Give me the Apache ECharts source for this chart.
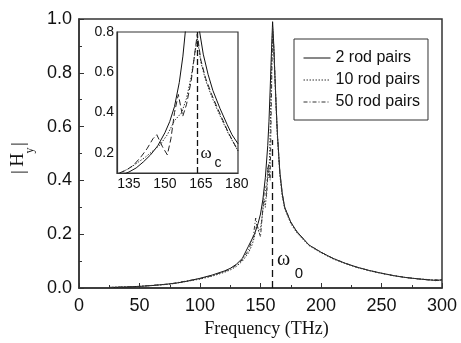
<!DOCTYPE html>
<html><head><meta charset="utf-8">
<script src="https://cdn.jsdelivr.net/npm/echarts@6/dist/echarts.min.js"></script>
<style>html,body{margin:0;padding:0;background:#fff}#c{width:461px;height:343px}</style>
</head><body><div id="c"></div>
<script>
// ---- main plot data ----
const seriesNames = ['2 rod pairs', '10 rod pairs', '50 rod pairs'];
const xTicks = [0, 50, 100, 150, 200, 250, 300];
const yTicks = [0.0, 0.2, 0.4, 0.6, 0.8, 1.0];
const omega0 = 160;

const f2 = [25,40,50,60,70,80,90,100,110,120,125,130,135,140,145,148,150,152,154,156,157,158,159,160,161,162,163,164,166,168,170,175,180,190,200,210,220,230,240,250,260,270,280,290,296,300];
const h2 = [0.002,0.004,0.006,0.009,0.013,0.018,0.026,0.036,0.048,0.063,0.073,0.088,0.11,0.155,0.20,0.24,0.275,0.33,0.41,0.53,0.62,0.74,0.87,0.99,0.90,0.78,0.67,0.57,0.43,0.35,0.30,0.245,0.21,0.16,0.133,0.11,0.092,0.077,0.065,0.055,0.046,0.039,0.034,0.030,0.028,0.031];

const f10 = [25,50,75,100,110,120,125,130,135,140,143,145,147,148.5,150,151.5,153,154,155,156,157,158,159,160,161,162,163,164,166,168,170,175,180,190,200,210,220,230,240,250,260,270,280,290,295,300];
const h10 = [0.002,0.006,0.014,0.033,0.044,0.058,0.067,0.08,0.1,0.13,0.16,0.19,0.24,0.21,0.22,0.27,0.33,0.30,0.36,0.45,0.41,0.58,0.80,0.97,0.89,0.77,0.66,0.56,0.42,0.34,0.295,0.24,0.205,0.158,0.131,0.108,0.091,0.076,0.064,0.054,0.046,0.039,0.034,0.031,0.027,0.03];

const f50 = [25,50,75,100,110,120,125,130,135,140,144,146,148,150,152,153.5,155,156.5,158,159,160,161,162,163,164,166,168,170,175,180,190,200,210,220,230,240,250,260,270,280,290,295,300];
const h50 = [0.002,0.006,0.015,0.035,0.046,0.061,0.071,0.085,0.105,0.14,0.19,0.26,0.22,0.19,0.30,0.38,0.34,0.46,0.40,0.70,0.96,0.89,0.78,0.67,0.57,0.43,0.35,0.30,0.245,0.21,0.16,0.133,0.11,0.092,0.077,0.065,0.055,0.046,0.039,0.034,0.029,0.031,0.028];

// ---- inset data ----
const insetXLabels = [135, 150, 165, 180];
const insetYLabels = [0.2, 0.4, 0.6, 0.8];
const omegaC = 163.5;

const fi2 = [131,133,135,138,141,144,147,150,152,154,156,157.5,158.5,159.5,161,162,164.5,166,168,170,173,176,178,180.5];
const hi2 = [0.085,0.095,0.105,0.125,0.155,0.19,0.235,0.30,0.355,0.43,0.55,0.68,0.80,0.95,1.05,1.0,0.80,0.69,0.59,0.51,0.42,0.34,0.29,0.245];

const fi10 = [130,133,136,139,142,145,148,151,154,157,159,161,163.5,165,167,169.5,172,176.5,180.5];
const hi10 = [0.095,0.11,0.13,0.155,0.18,0.21,0.24,0.29,0.36,0.40,0.47,0.58,0.77,0.65,0.56,0.48,0.41,0.295,0.21];

const fi50 = [131,134,137,140,142.5,145,146.6,149,151,152.5,154,155.6,157.4,159,161,163.5,165,167,169.5,172,176.5,180.5];
const hi50 = [0.1,0.115,0.14,0.18,0.22,0.27,0.29,0.23,0.19,0.27,0.40,0.49,0.38,0.44,0.56,0.79,0.66,0.57,0.49,0.42,0.30,0.21];

const zip = (xs, ys) => xs.map((x, i) => [x, ys[i]]);
const SANS = '"Liberation Sans", Arial, sans-serif';
const SERIF = '"Liberation Serif", "Times New Roman", serif';
const AX = '#333';

const styles = [
  {color: '#111', width: 1, type: 'solid'},
  {color: '#333', width: 1, type: [1.5, 1.5]},
  {color: '#333', width: 1, type: [4, 2, 1, 2]}
];
const insetStyles = [
  {color: '#111', width: 1, type: 'solid'},
  {color: '#333', width: 1, type: [1.5, 1.5]},
  {color: '#222', width: 1, type: [6, 3]}
];

const chart = echarts.init(document.getElementById('c'), null, {renderer: 'canvas'});
const option = {
  animation: false,
  backgroundColor: '#fff',
  color: ['#111', '#333', '#333', '#111', '#333', '#222'],
  grid: [
    {left: 79, right: 19, top: 19, bottom: 55, show: true, borderColor: AX, borderWidth: 1.5},
    {left: 117, top: 32, width: 121, height: 141, show: true, borderColor: AX, borderWidth: 1.2, backgroundColor: '#fff'}
  ],
  xAxis: [
    {gridIndex: 0, type: 'value', min: xTicks[0], max: xTicks[xTicks.length - 1], interval: 50,
     axisLine: {lineStyle: {color: AX, width: 1.5}},
     axisTick: {inside: true, length: 5, lineStyle: {color: AX}},
     minorTick: {show: true, splitNumber: 2, length: 3, lineStyle: {color: AX}},
     splitLine: {show: false},
     axisLabel: {margin: 9, fontSize: 18, color: '#111', fontFamily: SANS},
     name: 'Frequency (THz)', nameLocation: 'middle', nameGap: 30,
     nameTextStyle: {fontFamily: SERIF, fontSize: 18, color: '#111', padding: [0, 0, 0, 12]}},
    {gridIndex: 1, type: 'value', min: 130, max: 180.5, interval: 5,
     axisLine: {lineStyle: {color: AX, width: 1.2}},
     axisTick: {show: false}, splitLine: {show: false},
     axisLabel: {margin: 4, fontSize: 14, color: '#111', fontFamily: SANS,
       formatter: v => insetXLabels.includes(Math.round(v * 10) / 10) ? String(v) : ''}}
  ],
  yAxis: [
    {gridIndex: 0, type: 'value', min: yTicks[0], max: yTicks[yTicks.length - 1], interval: 0.2,
     axisLine: {lineStyle: {color: AX, width: 1.5}},
     axisTick: {inside: true, length: 5, lineStyle: {color: AX}},
     minorTick: {show: true, splitNumber: 2, length: 3, lineStyle: {color: AX}},
     splitLine: {show: false},
     axisLabel: {margin: 7, fontSize: 18, color: '#111', fontFamily: SANS, formatter: v => v.toFixed(1)}},
    {gridIndex: 1, type: 'value', min: 0.1, max: 0.8, interval: 0.1,
     axisLine: {lineStyle: {color: AX, width: 1.2}},
     axisTick: {show: false}, splitLine: {show: false},
     axisLabel: {margin: 3, fontSize: 14, color: '#111', fontFamily: SANS,
       formatter: v => { const r = Math.round(v * 10) / 10; return insetYLabels.includes(r) ? r.toFixed(1) : ''; }}}
  ],
  legend: {
    orient: 'vertical', left: 294, top: 39, padding: [11, 8, 10, 9], itemGap: 6,
    itemWidth: 27, itemHeight: 14, borderColor: AX, borderWidth: 1, backgroundColor: '#fff',
    itemStyle: {color: 'transparent', borderWidth: 0, opacity: 0},
    lineStyle: {width: 1},
    textStyle: {fontSize: 16, color: '#111', fontFamily: SANS},
    data: seriesNames
  },
  series: [
    {name: seriesNames[0], type: 'line', xAxisIndex: 0, yAxisIndex: 0, symbol: 'none', data: zip(f2, h2), lineStyle: styles[0], z: 3,
     markLine: {silent: true, symbol: ['none', 'none'], label: {show: false},
       lineStyle: {color: '#111', type: [7, 4], width: 1.3},
       data: [[{coord: [omega0, 0]}, {coord: [omega0, 0.55]}]]}},
    {name: seriesNames[1], type: 'line', xAxisIndex: 0, yAxisIndex: 0, symbol: 'none', data: zip(f10, h10), lineStyle: styles[1]},
    {name: seriesNames[2], type: 'line', xAxisIndex: 0, yAxisIndex: 0, symbol: 'none', data: zip(f50, h50), lineStyle: styles[2]},
    {name: 'inset2', type: 'line', xAxisIndex: 1, yAxisIndex: 1, symbol: 'none', data: zip(fi2, hi2), lineStyle: insetStyles[0], z: 5,
     markLine: {silent: true, symbol: ['none', 'none'], label: {show: false},
       lineStyle: {color: '#111', type: [6, 3], width: 1.3},
       data: [[{coord: [omegaC, 0.1]}, {coord: [omegaC, 0.8]}]]}},
    {name: 'inset10', type: 'line', xAxisIndex: 1, yAxisIndex: 1, symbol: 'none', data: zip(fi10, hi10), lineStyle: insetStyles[1], z: 5},
    {name: 'inset50', type: 'line', xAxisIndex: 1, yAxisIndex: 1, symbol: 'none', data: zip(fi50, hi50), lineStyle: insetStyles[2], z: 5}
  ],
  graphic: [
    {type: 'text', x: 19.5, y: 172, rotation: Math.PI / 2, style: {text: '|', font: '19px ' + SERIF, fill: '#111', align: 'center', verticalAlign: 'middle'}},
    {type: 'text', x: 18.5, y: 160, rotation: Math.PI / 2, style: {text: 'H', font: '19px ' + SERIF, fill: '#111', align: 'center', verticalAlign: 'middle'}},
    {type: 'text', x: 29.5, y: 150.5, rotation: Math.PI / 2, style: {text: 'y', font: '12px ' + SERIF, fill: '#111', align: 'center', verticalAlign: 'middle'}},
    {type: 'text', x: 19.5, y: 144, rotation: Math.PI / 2, style: {text: '|', font: '19px ' + SERIF, fill: '#111', align: 'center', verticalAlign: 'middle'}},
    {type: 'text', x: 283.5, y: 260, z: 10, style: {text: 'ω', font: '20px ' + SERIF, fill: '#111', align: 'center', verticalAlign: 'middle'}},
    {type: 'text', x: 299, y: 274, z: 10, style: {text: '0', font: '15px ' + SANS, fill: '#111', align: 'center', verticalAlign: 'middle'}},
    {type: 'text', x: 206, y: 154, z: 10, style: {text: 'ω', font: '17px ' + SERIF, fill: '#111', align: 'center', verticalAlign: 'middle'}},
    {type: 'text', x: 218, y: 163, z: 10, style: {text: 'c', font: '14px ' + SANS, fill: '#111', align: 'center', verticalAlign: 'middle'}}
  ]
};
chart.setOption(option);
</script></body></html>
